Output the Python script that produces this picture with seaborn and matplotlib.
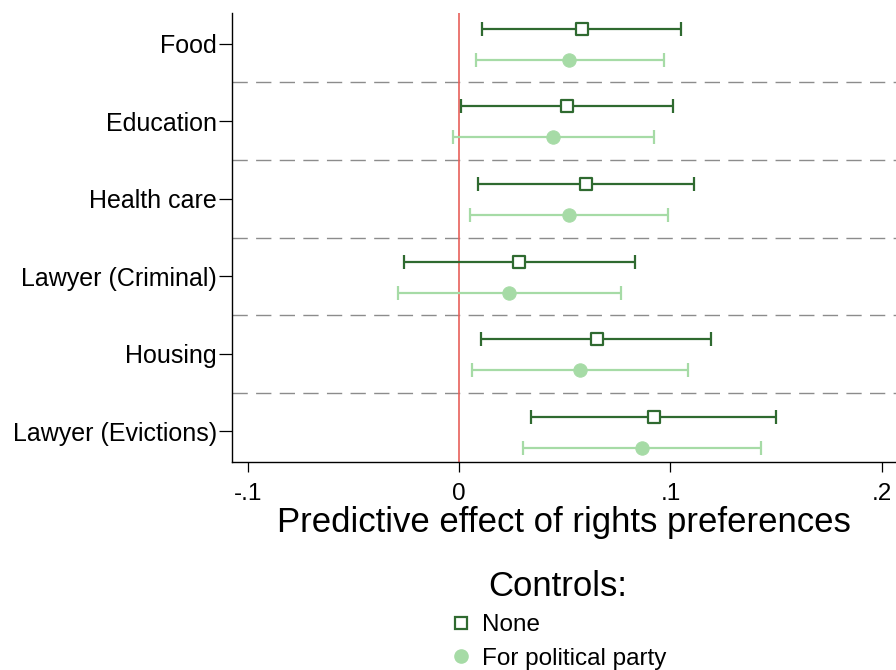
import numpy as np
import pandas as pd
import matplotlib
matplotlib.use("Agg")
from matplotlib import pyplot as plt
from matplotlib.lines import Line2D
import seaborn as sns

# coefficient estimates and 95% CIs
categories = ['Food', 'Education', 'Health care', 'Lawyer (Criminal)', 'Housing', 'Lawyer (Evictions)']
none_est = [0.058, 0.051, 0.060, 0.0285, 0.065, 0.092]
none_lo = [0.011, 0.001, 0.009, -0.026, 0.0105, 0.034]
none_hi = [0.105, 0.101, 0.111, 0.083, 0.119, 0.150]
party_est = [0.052, 0.0445, 0.052, 0.0235, 0.057, 0.0865]
party_lo = [0.0077, -0.0028, 0.005, -0.029, 0.006, 0.030]
party_hi = [0.097, 0.092, 0.099, 0.0765, 0.1085, 0.143]
xticks = [-0.1, 0, 0.1, 0.2]
xtick_labels = ['-.1', '0', '.1', '.2']

sns.set_style('white')
plt.rcParams['font.family'] = ['Liberation Sans', 'DejaVu Sans']
plt.rcParams['text.color'] = 'black'
plt.rcParams['axes.labelcolor'] = 'black'
plt.rcParams['xtick.color'] = 'black'
plt.rcParams['ytick.color'] = 'black'

dark = '#2f6a30'
light = '#a6dba6'

df = pd.DataFrame({
    'category': categories * 2,
    'pos': list(np.arange(6) - 0.19) + list(np.arange(6) + 0.21),
    'est': none_est + party_est,
    'lo': none_lo + party_lo,
    'hi': none_hi + party_hi,
    'model': ['None'] * 6 + ['For political party'] * 6,
})

fig = plt.figure(figsize=(8.96, 6.7), dpi=100)
ax = fig.add_axes([0.2587, 0.311, 0.7413, 0.669])

ax.axvline(0, color='#e8605a', lw=1.2, zorder=1)
for b in np.arange(5) + 0.5:
    ax.axhline(b, color='#8c8c8c', lw=1.0, ls=(0, (11, 6)), zorder=0)

for model, col in [('None', dark), ('For political party', light)]:
    d = df[df.model == model]
    ax.errorbar(d.est, d.pos, xerr=[d.est - d.lo, d.hi - d.est], fmt='none',
                ecolor=col, elinewidth=1.6, capsize=4.7, capthick=1.6, zorder=2)

sns.scatterplot(data=df[df.model == 'None'], x='est', y='pos', marker='s', s=72,
                facecolor='white', edgecolor=dark, linewidth=1.6, ax=ax, zorder=3)
sns.scatterplot(data=df[df.model != 'None'], x='est', y='pos', marker='o', s=92,
                color=light, edgecolor=light, ax=ax, zorder=3)

ax.set_xlim(-0.1077, 0.2068)
ax.set_ylim(5.39, -0.39)
ax.set_yticks(range(6))
ax.set_yticklabels(categories, fontsize=18)
ax.set_xticks(xticks)
ax.set_xticklabels(xtick_labels, fontsize=17.5)
ax.tick_params(axis='both', direction='out', width=0.9, color='black')
ax.tick_params(axis='x', bottom=True, length=7.2, pad=8)
ax.tick_params(axis='y', left=True, length=9.5, pad=1.2)
ax.set_xlabel('Predictive effect of rights preferences', fontsize=25, labelpad=1)
ax.set_ylabel('')
for s in ['top', 'right']:
    ax.spines[s].set_visible(False)
for s in ['left', 'bottom']:
    ax.spines[s].set_color('black')
    ax.spines[s].set_linewidth(1.0)

handles = [
    Line2D([], [], marker='s', ls='none', markersize=9, markerfacecolor='white',
           markeredgecolor=dark, markeredgewidth=1.6, label='None'),
    Line2D([], [], marker='o', ls='none', markersize=9.5, color=light, label='For political party'),
]
leg = fig.legend(handles=handles, title='Controls:', loc='upper center',
                 bbox_to_anchor=(0.6225, 0.149), frameon=False, fontsize=17.5,
                 title_fontsize=25, handletextpad=0.35, labelspacing=0.46,
                 handlelength=1.0, borderaxespad=0, borderpad=0)

fig.savefig('out.png', dpi=100)
